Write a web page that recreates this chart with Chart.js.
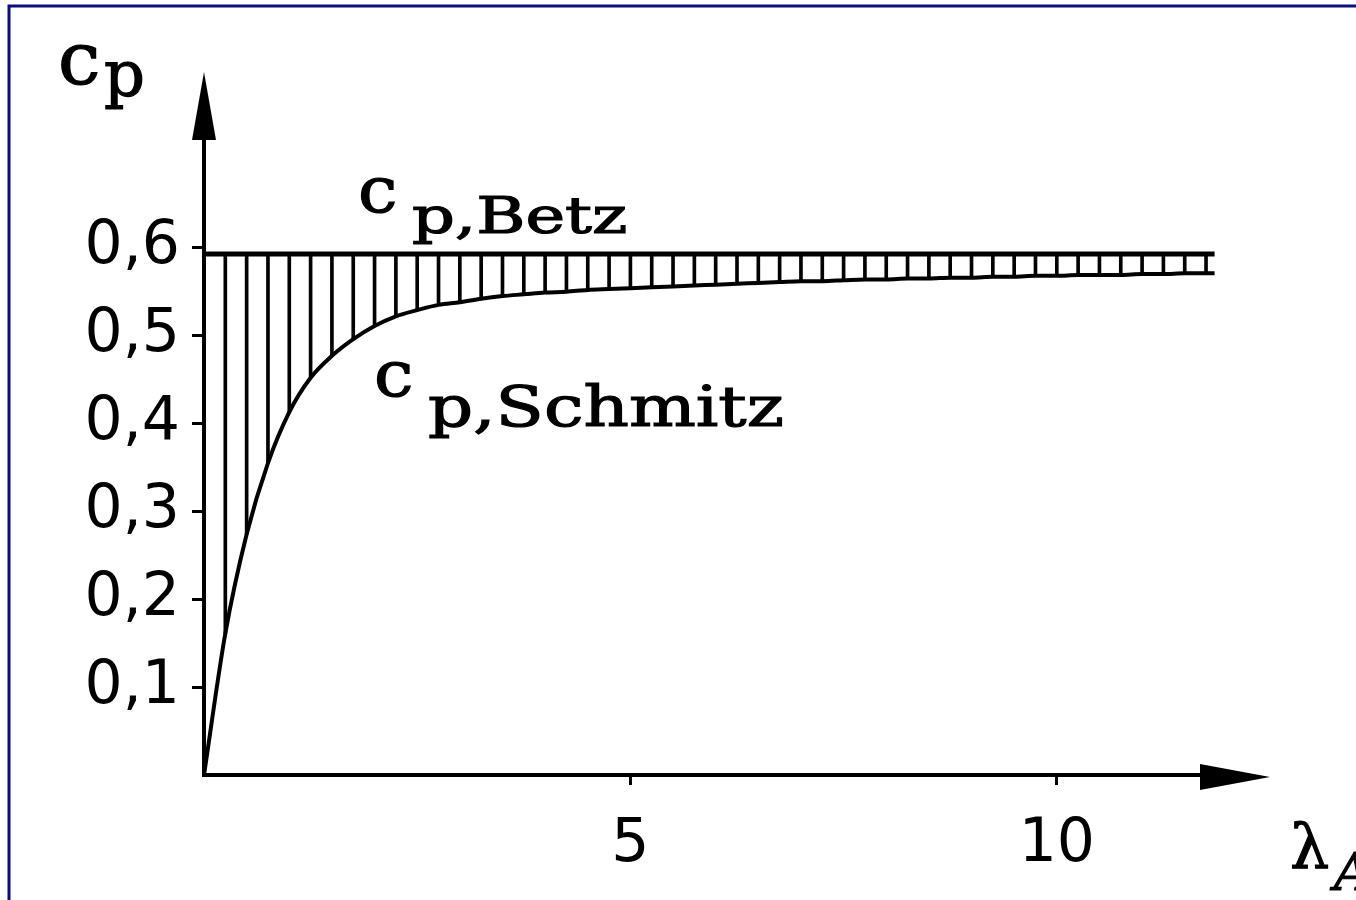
<!DOCTYPE html>
<html>
<head>
<meta charset="utf-8">
<script src="https://cdn.jsdelivr.net/npm/chart.js@4/dist/chart.umd.min.js"></script>
<style>
    html, body { margin: 0; padding: 0; background: #fff; }
    #wrap { width: 1356px; height: 900px; }
</style>
</head>
<body>
<div id="wrap"><canvas id="cpChart" width="1356" height="900"></canvas></div>
<script>
    const lambdaValues = [0, 0.25, 0.5, 0.75, 1, 1.25, 1.5, 1.75, 2, 2.25, 2.5, 2.75, 3, 3.25, 3.5, 3.75,
        4, 4.25, 4.5, 4.75, 5, 5.25, 5.5, 5.75, 6, 6.25, 6.5, 6.75, 7, 7.25, 7.5, 7.75,
        8, 8.25, 8.5, 8.75, 9, 9.25, 9.5, 9.75, 10, 10.25, 10.5, 10.75, 11, 11.25, 11.5, 11.75, 11.85];
    const cpSchmitz = [0, 0.161, 0.274, 0.355, 0.413, 0.452, 0.477, 0.496, 0.511, 0.522, 0.529, 0.535, 0.538, 0.542, 0.545, 0.547,
        0.549, 0.550, 0.552, 0.553, 0.554, 0.555, 0.556, 0.557, 0.558, 0.559, 0.560, 0.561, 0.562, 0.562, 0.563, 0.564,
        0.564, 0.565, 0.565, 0.566, 0.566, 0.567, 0.567, 0.568, 0.568, 0.569, 0.569, 0.569, 0.570, 0.570, 0.571, 0.571, 0.571];
    const betzLambda = [0, 11.85];
    const cpBetz = [0.593, 0.593];

    const xTicks = [5, 10];
    const yTicks = [0.1, 0.2, 0.3, 0.4, 0.5, 0.6];

    const schmitzPoints = lambdaValues.map((l, i) => ({x: l, y: cpSchmitz[i]}));
    const betzPoints = betzLambda.map((l, i) => ({x: l, y: cpBetz[i]}));
    // vertical hatch lines between the two curves
    const hatchBars = lambdaValues
        .map((l, i) => ({x: l, y: [cpSchmitz[i], cpBetz[0]]}))
        .filter(p => p.x > 0 && p.x < 11.8);

    const drawText = (ctx, text, x, y, size, sx, italic)=>{
        ctx.save();
        ctx.font = (italic ? 'italic ' : '') + size + 'px "DejaVu Serif"';
        ctx.fillStyle = '#000';
        ctx.strokeStyle = '#000';
        ctx.lineWidth = 1.2;
        ctx.textBaseline = 'alphabetic';
        ctx.translate(x, y);
        ctx.scale(sx, 1);
        ctx.fillText(text, 0, 0);
        ctx.strokeText(text, 0, 0);
        ctx.restore();
    };

    const decorPlugin = {
        id: 'decor',
        beforeDraw(chart) {
            const ctx = chart.ctx;
            ctx.save();
            ctx.fillStyle = '#fff';
            ctx.fillRect(0, 0, chart.width, chart.height);
            // scan frame (only top and left edges are visible)
            ctx.strokeStyle = '#0c0c7c';
            ctx.lineWidth = 3;
            ctx.beginPath();
            ctx.moveTo(9, 900);
            ctx.lineTo(9, 6);
            ctx.lineTo(1356, 6);
            ctx.stroke();
            ctx.restore();
        },
        afterDraw(chart) {
            const ctx = chart.ctx;
            const xs = chart.scales.x, ys = chart.scales.y;
            const x0 = xs.getPixelForValue(0), y0 = ys.getPixelForValue(0);
            const xEnd = xs.right, yEnd = ys.top;

            ctx.save();
            ctx.strokeStyle = '#000';
            ctx.fillStyle = '#000';
            ctx.lineWidth = 4;
            ctx.lineCap = 'square';
            ctx.beginPath();
            ctx.moveTo(x0, y0);
            ctx.lineTo(x0, yEnd + 60);
            ctx.moveTo(x0, y0);
            ctx.lineTo(xEnd - 60, y0);
            ctx.stroke();

            // arrow heads
            ctx.beginPath();
            ctx.moveTo(x0, yEnd);
            ctx.lineTo(x0 - 12, yEnd + 68);
            ctx.lineTo(x0 + 12, yEnd + 68);
            ctx.closePath();
            ctx.fill();
            ctx.beginPath();
            ctx.moveTo(xEnd, y0 + 2);
            ctx.lineTo(xEnd - 70, y0 - 11);
            ctx.lineTo(xEnd - 70, y0 + 15);
            ctx.closePath();
            ctx.fill();
            ctx.restore();

            // axis and curve labels
            drawText(ctx, 'c', 58, 84, 72, 1.05);
            drawText(ctx, 'p', 104, 96, 64, 1.0);
            drawText(ctx, 'c', 358, 212, 64, 1.1);
            drawText(ctx, 'p,Betz', 412, 233, 50, 1.34);
            drawText(ctx, 'c', 374, 396, 64, 1.1);
            drawText(ctx, 'p,Schmitz', 428, 426, 56, 1.26);
            drawText(ctx, 'λ', 1290, 868, 62, 1.0);
            drawText(ctx, 'A', 1334, 890, 52, 1.0, true);
        }
    };

    const ctx = document.getElementById('cpChart').getContext('2d');
    const cpChart = new Chart(ctx, {
        type: 'line',
        data: {
            datasets: [{
                type: 'bar',
                data: hatchBars,
                backgroundColor: '#000',
                borderWidth: 0,
                barThickness: 3,
                grouped: false,
                order: 3
            }, {
                data: betzPoints,
                borderColor: '#000',
                borderWidth: 5,
                pointRadius: 0,
                order: 2
            }, {
                data: schmitzPoints,
                borderColor: '#000',
                borderWidth: 4,
                pointRadius: 0,
                cubicInterpolationMode: 'monotone',
                order: 1
            }]
        },
        options: {
            responsive: false,
            animation: false,
            events: [],
            layout: {padding: {top: 72, right: 86, left: 0, bottom: 0}},
            plugins: {legend: {display: false}, tooltip: {enabled: false}},
            scales: {
                x: {
                    type: 'linear',
                    min: 0,
                    max: 12.5,
                    offset: false,
                    afterBuildTicks: (scale)=>{ scale.ticks = xTicks.map(v=>({value: v})); },
                    afterFit: (scale)=>{ scale.height = 125; },
                    border: {display: false},
                    grid: {display: true, offset: false, drawOnChartArea: false, drawTicks: true, tickLength: 10, color: '#000', lineWidth: 3},
                    ticks: {
                        color: '#000',
                        padding: 24,
                        maxRotation: 0,
                        font: {family: 'DejaVu Sans', size: 60},
                        callback: (v)=>String(v)
                    }
                },
                y: {
                    min: 0,
                    max: 0.8,
                    afterBuildTicks: (scale)=>{ scale.ticks = yTicks.map(v=>({value: v})); },
                    afterFit: (scale)=>{ scale.width = 204; },
                    border: {display: false},
                    grid: {display: true, offset: false, drawOnChartArea: false, drawTicks: true, tickLength: 12, color: '#000', lineWidth: 3},
                    ticks: {
                        color: '#000',
                        padding: 12,
                        font: {family: 'DejaVu Sans', size: 60},
                        callback: (v)=>v.toFixed(1).replace('.', ',')
                    }
                }
            }
        },
        plugins: [decorPlugin]
    });
</script>
</body>
</html>
